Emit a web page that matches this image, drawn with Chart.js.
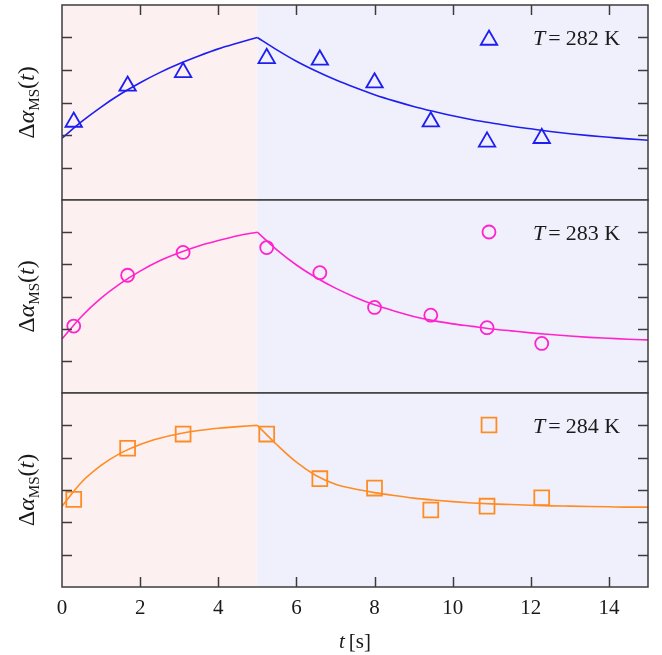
<!DOCTYPE html>
<html><head><meta charset="utf-8">
<script src="https://cdn.jsdelivr.net/npm/chart.js@4.4.1/dist/chart.umd.min.js"></script>
<style>
html,body{margin:0;padding:0;background:#fff;}
#wrap{position:relative;width:662px;height:655px;overflow:hidden;}
canvas{position:absolute;left:0;}
</style></head><body>
<div id="wrap">
<canvas id="c1" width="662" height="210" style="top:0px;width:662px;height:210px"></canvas>
<canvas id="c2" width="662" height="213" style="top:190px;width:662px;height:213px"></canvas>
<canvas id="c3" width="662" height="272" style="top:383px;width:662px;height:272px"></canvas>
</div>
<script>
// ---- data ----
const times   = [0.3, 1.68, 3.1, 5.24, 6.6, 8.0, 9.44, 10.88, 12.28];
const obs282  = [2.40, 3.51, 3.93, 4.36, 4.31, 3.61, 2.41, 1.79, 1.90];
const obs283  = [2.08, 3.66, 4.37, 4.52, 3.74, 2.66, 2.42, 2.03, 1.54];
const obs284  = [2.71, 4.29, 4.73, 4.73, 3.35, 3.06, 2.38, 2.50, 2.76];
const riseT   = [0, 0.5, 1, 1.5, 2, 2.5, 3, 3.5, 4, 4.5, 5];
const decayT  = [5, 5.5, 6, 6.5, 7, 7.5, 8, 8.5, 9, 9.5, 10, 10.5, 11, 11.5, 12, 12.5, 13, 13.5, 14, 14.5, 15];
const rise282 = [1.90, 2.41, 2.86, 3.26, 3.61, 3.92, 4.19, 4.43, 4.65, 4.83, 5.00];
const decay282= [5.00, 4.62, 4.27, 3.97, 3.70, 3.46, 3.24, 3.05, 2.88, 2.73, 2.59, 2.47, 2.37, 2.27, 2.19, 2.11, 2.04, 1.98, 1.93, 1.88, 1.84];
const rise283 = [1.68, 2.38, 2.95, 3.41, 3.79, 4.11, 4.36, 4.57, 4.74, 4.89, 5.00];
const decay283= [5.00, 4.45, 3.98, 3.59, 3.26, 2.98, 2.74, 2.55, 2.38, 2.25, 2.15, 2.07, 1.99, 1.93, 1.87, 1.82, 1.77, 1.73, 1.70, 1.67, 1.65];
const rise284 = [2.50, 3.24, 3.76, 4.14, 4.41, 4.60, 4.74, 4.84, 4.91, 4.96, 5.00];
const decay284= [5.00, 4.40, 3.86, 3.45, 3.18, 3.03, 2.92, 2.83, 2.75, 2.69, 2.64, 2.60, 2.57, 2.55, 2.53, 2.51, 2.50, 2.49, 2.48, 2.47, 2.47];
const xTicks      = [0, 2, 4, 6, 8, 10, 12, 14];
const xTickLabels = ['0', '2', '4', '6', '8', '10', '12', '14'];
const yTicks      = [1, 2, 3, 4, 5];
const temps       = ['282', '283', '284'];
const switchTime  = 5;

const SERIF = '"Liberation Serif", "DejaVu Serif", serif';
const frameColor = '#3c3c3c';
const textColor = '#1a1a1a';
const pinkBg = 'rgb(253,240,241)';
const lavBg = 'rgb(240,240,252)';

function markerPath(ctx, style, x, y, r) {
  ctx.beginPath();
  if (style === 'triangle') {
    let rad = 0;
    ctx.moveTo(x + Math.sin(rad) * r, y - Math.cos(rad) * r);
    rad += 2 * Math.PI / 3;
    ctx.lineTo(x + Math.sin(rad) * r, y - Math.cos(rad) * r);
    rad += 2 * Math.PI / 3;
    ctx.lineTo(x + Math.sin(rad) * r, y - Math.cos(rad) * r);
    ctx.closePath();
  } else if (style === 'circle') {
    ctx.arc(x, y, r, 0, Math.PI * 2);
  } else {
    const s = Math.SQRT1_2 * r;
    ctx.rect(x - s, y - s, 2 * s, 2 * s);
  }
}

function drawSegments(ctx, segs, cx, cy) {
  let total = 0;
  segs.forEach(s => { ctx.font = s.f; s.w = ctx.measureText(s.t).width; total += s.w + (s.gap || 0); });
  let x = cx - total / 2;
  segs.forEach(s => { ctx.font = s.f; ctx.fillText(s.t, x, cy + (s.dy || 0)); x += s.w + (s.gap || 0); });
}

const panelPlugin = {
  id: 'panel',
  beforeDatasetsDraw(chart) {
    const { ctx, chartArea: a, scales: { x } } = chart;
    const xs = x.getPixelForValue(switchTime);
    ctx.save();
    ctx.fillStyle = pinkBg;
    ctx.fillRect(a.left, a.top, xs - a.left, a.bottom - a.top);
    ctx.fillStyle = lavBg;
    ctx.fillRect(xs, a.top, a.right - xs, a.bottom - a.top);
    ctx.restore();
  },
  afterDatasetsDraw(chart, args, o) {
    const { ctx, chartArea: a, scales: { x, y } } = chart;
    const tl = 10;
    ctx.save();
    ctx.strokeStyle = frameColor;
    ctx.lineWidth = 1.5;
    ctx.strokeRect(a.left, a.top, a.right - a.left, a.bottom - a.top);
    ctx.beginPath();
    yTicks.forEach(v => {
      const py = Math.round(y.getPixelForValue(v)) + 0.5;
      ctx.moveTo(a.left, py); ctx.lineTo(a.left + tl, py);
      ctx.moveTo(a.right, py); ctx.lineTo(a.right - tl, py);
    });
    xTicks.forEach(v => {
      if (v <= 0) return;
      const px = Math.round(x.getPixelForValue(v)) + 0.5;
      if (o.topTicks) { ctx.moveTo(px, a.top); ctx.lineTo(px, a.top + tl); }
      if (o.bottomTicks) { ctx.moveTo(px, a.bottom); ctx.lineTo(px, a.bottom - tl); }
    });
    ctx.stroke();

    // legend
    ctx.strokeStyle = o.color;
    ctx.lineWidth = 1.8;
    markerPath(ctx, o.marker, 489, a.top + o.legendDy, o.radius);
    ctx.stroke();
    ctx.fillStyle = textColor;
    ctx.textBaseline = 'alphabetic';
    ctx.textAlign = 'left';
    let tx = 533;
    const ty = a.top + 39.5;
    ctx.font = 'italic 22px ' + SERIF;
    ctx.fillText('T', tx, ty);
    tx += ctx.measureText('T').width + 3;
    ctx.font = '22px ' + SERIF;
    ctx.fillText('=', tx, ty);
    tx += ctx.measureText('=').width + 5;
    ctx.fillText(o.temp + ' K', tx, ty);

    // y label
    ctx.save();
    ctx.translate(34, (a.top + a.bottom) / 2);
    ctx.rotate(-Math.PI / 2);
    drawSegments(ctx, [
      { t: '\u0394', f: '24px ' + SERIF },
      { t: '\u03B1', f: 'italic 24px ' + SERIF },
      { t: 'MS', f: '15px ' + SERIF, dy: 5 },
      { t: '(', f: '24px ' + SERIF },
      { t: 't', f: 'italic 24px ' + SERIF },
      { t: ')', f: '24px ' + SERIF }
    ], 0, 0);
    ctx.restore();

    if (o.xTitle) {
      const cy = 265;
      drawSegments(ctx, [
        { t: 't', f: 'italic 21px ' + SERIF, gap: 4 },
        { t: '[s]', f: '21px ' + SERIF }
      ], (a.left + a.right) / 2, cy);
    }
    ctx.restore();
  }
};

function makeChart(id, obs, rise, decay, color, marker, radius, temp, cfg) {
  const xScale = cfg.showX ? {
    type: 'linear', min: 0, max: 15, position: 'bottom',
    afterBuildTicks: s => { s.ticks = xTicks.map(v => ({ value: v })); },
    afterFit: s => { s.height = 68; },
    grid: { display: false, drawTicks: false },
    border: { display: false },
    ticks: {
      callback: (v, i) => xTickLabels[i],
      font: { family: SERIF, size: 21 }, color: textColor,
      padding: 9, maxRotation: 0, autoSkip: false
    }
  } : { type: 'linear', min: 0, max: 15, display: false };
  return new Chart(document.getElementById(id), {
    type: 'scatter',
    data: {
      datasets: [
        { data: times.map((t, i) => ({ x: t, y: obs[i] })), showLine: false,
          pointStyle: marker, pointRadius: radius, pointHoverRadius: radius,
          pointBorderColor: color, pointBackgroundColor: 'rgba(0,0,0,0)', pointBorderWidth: 1.8, order: 0 },
        { data: riseT.map((t, i) => ({ x: t, y: rise[i] })), showLine: true, borderColor: color,
          borderWidth: 1.6, pointRadius: 0, cubicInterpolationMode: 'monotone', order: 1 },
        { data: decayT.map((t, i) => ({ x: t, y: decay[i] })), showLine: true, borderColor: color,
          borderWidth: 1.6, pointRadius: 0, cubicInterpolationMode: 'monotone', order: 1 }
      ]
    },
    options: {
      responsive: false, animation: false, devicePixelRatio: 1, events: [],
      layout: { padding: cfg.pad, autoPadding: false },
      plugins: {
        legend: { display: false }, tooltip: { enabled: false },
        panel: { color, marker, radius, temp, legendDy: cfg.legendDy, topTicks: cfg.topTicks, bottomTicks: cfg.bottomTicks, xTitle: cfg.showX }
      },
      scales: { x: xScale, y: { min: 0, max: 6, display: false } }
    },
    plugins: [panelPlugin]
  });
}

makeChart('c1', obs282, rise282, decay282, 'rgb(30,30,240)', 'triangle', 9.5, temps[0],
  { pad: { left: 62, right: 14, top: 5, bottom: 10 }, legendDy: 35, topTicks: true, bottomTicks: false, showX: false });
makeChart('c2', obs283, rise283, decay283, 'rgb(255,35,205)', 'circle', 6.5, temps[1],
  { pad: { left: 62, right: 14, top: 10, bottom: 10 }, legendDy: 32, topTicks: false, bottomTicks: false, showX: false });
makeChart('c3', obs284, rise284, decay284, 'rgb(255,140,35)', 'rect', 10.5, temps[2],
  { pad: { left: 62, right: 14, top: 10, bottom: 0 }, legendDy: 32, topTicks: false, bottomTicks: true, showX: true });
</script>
</body></html>
